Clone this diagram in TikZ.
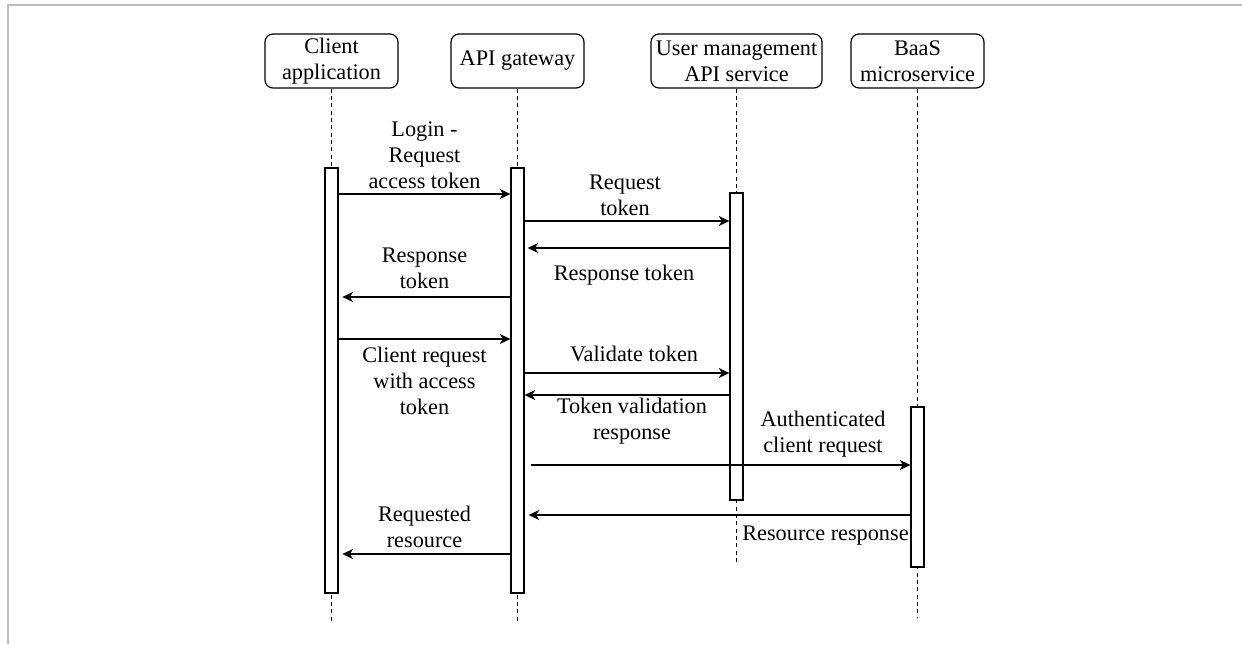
\documentclass[tikz,border=0pt]{standalone}
\usepackage{fontspec}
\newfontfamily\diagfont{Liberation Serif}
\usetikzlibrary{arrows.meta,fit}
\definecolor{framegray}{RGB}{188,188,188}
\tikzset{
  diagtext/.style={font=\diagfont\fontsize{16.7pt}{19.5pt}\selectfont},
  head/.style={diagtext, draw, line width=0.9pt, rounded corners=6pt, minimum height=40.5pt, minimum width=99.75pt, inner sep=0pt, align=center},
  bar/.style={draw, line width=0.9pt, fill=white, inner sep=0pt},
  life/.style={line width=0.8pt, dash pattern=on 3pt off 2.5pt},
  msg/.style={line width=0.9pt, -{Stealth[length=8pt,width=7.5pt,inset=2.4pt]}},
  lbl/.style={diagtext, inner sep=0pt, align=center}
}
\begin{document}
\begin{tikzpicture}[x=0.75pt,y=-0.75pt]
\useasboundingbox (0,0) rectangle (1242,644);
\draw[framegray, line width=1.2pt] (8,644) -- (8,5) -- (1242,5);

% headers
\node[head] (ca) at (331.5,61) {Client\\application};
\node[head] (gw) at (517.5,61) {API gateway};
\node[head, minimum width=128.25pt] (um) at (736.5,61) {User management\\API service};
\node[head] (bs) at (917.5,61) {BaaS\\microservice};

% lifeline ends
\coordinate (caend) at (331.5,622);
\coordinate (gwend) at (517.5,622);
\coordinate (umend) at (736.5,563);
\coordinate (bsend) at (917.5,618);
\draw[life] (ca.south) -- (caend);
\draw[life] (gw.south) -- (gwend);
\draw[life] (um.south) -- (umend);
\draw[life] (bs.south) -- (bsend);

% activation bars
\node[bar, fit={(325,168) (338,593)}] (cab) {};
\node[bar, fit={(511,168) (524,593)}] (gwb) {};
\node[bar, fit={(730,193) (743,500)}] (umb) {};
\node[bar, fit={(911,407) (924,567)}] (bsb) {};

% messages
\draw[msg] (cab.east |- 0,194) -- (gwb.west |- 0,194);
\node[lbl] (l1) at (424.5,155) {Login -\\Request\\access token};

\draw[msg] (gwb.east |- 0,221) -- (umb.west |- 0,221);
\node[lbl] (l2) at (625,195) {Request\\token};

\draw[msg, shorten >=2.2pt] (umb.west |- 0,248) -- (gwb.east |- 0,248);
\node[lbl] (l3) at (624,275) {Response token};

\draw[msg, shorten >=2.8pt] (gwb.west |- 0,297) -- (cab.east |- 0,297);
\node[lbl] (l4) at (424.5,268) {Response\\token};

\draw[msg] (cab.east |- 0,339) -- (gwb.west |- 0,339);
\node[lbl] (l5) at (424.5,381) {Client request\\with access\\token};

\draw[msg] (gwb.east |- 0,373) -- (umb.west |- 0,373);
\node[lbl] (l6) at (634,354) {Validate token};

\draw[msg] (umb.west |- 0,395) -- (gwb.east |- 0,395);
\node[lbl] (l7) at (632,421) {Token validation\\response};

\draw[msg, shorten <=4.5pt] (gwb.east |- 0,465) -- (bsb.west |- 0,465);
\node[lbl] (l8) at (823,434) {Authenticated\\client request};

\draw[msg, shorten >=3pt] (bsb.west |- 0,515) -- (gwb.east |- 0,515);
\node[lbl] (l9) at (825.5,536) {Resource response};

\draw[msg, shorten >=2.8pt] (gwb.west |- 0,554) -- (cab.east |- 0,554);
\node[lbl] (l10) at (424.5,527) {Requested\\resource};
\end{tikzpicture}
\end{document}
